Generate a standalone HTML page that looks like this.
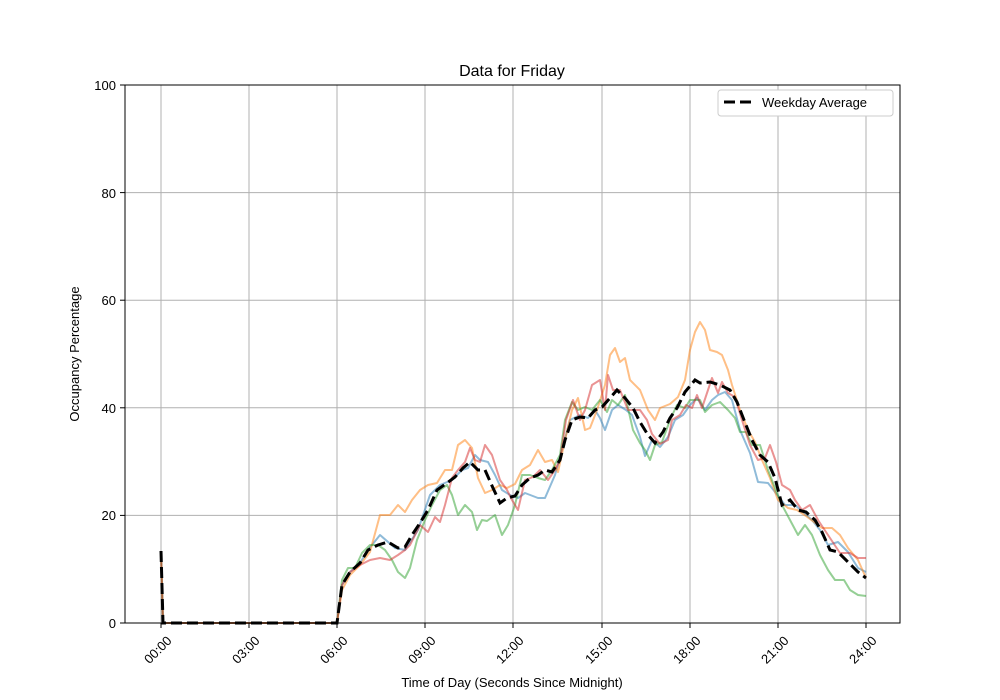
<!DOCTYPE html>
<html><head><meta charset="utf-8"><style>body{margin:0;background:#fff}svg{display:block;font-family:"Liberation Sans","DejaVu Sans",sans-serif}</style></head><body>
<svg width="1000" height="700" viewBox="0 0 1000 700">
<rect width="1000" height="700" fill="#fff"/>
<g stroke="#b0b0b0" stroke-width="1">
<line x1="161" y1="85" x2="161" y2="623"/><line x1="249" y1="85" x2="249" y2="623"/><line x1="337" y1="85" x2="337" y2="623"/><line x1="425" y1="85" x2="425" y2="623"/><line x1="513" y1="85" x2="513" y2="623"/><line x1="602" y1="85" x2="602" y2="623"/><line x1="690" y1="85" x2="690" y2="623"/><line x1="778" y1="85" x2="778" y2="623"/><line x1="866" y1="85" x2="866" y2="623"/>
<line x1="125" y1="515.4" x2="900" y2="515.4"/><line x1="125" y1="407.8" x2="900" y2="407.8"/><line x1="125" y1="300.2" x2="900" y2="300.2"/><line x1="125" y1="192.6" x2="900" y2="192.6"/>
</g>
<g fill="none" stroke-width="2" stroke-linejoin="round" stroke-opacity="0.5">
<polyline stroke="#1f77b4" points="161,551 163,623 337,623 342,585 350,572 360,563 368,550 380,535 395,548 405,550 418,530 430,495 440,485 452,480 462,470 468,468 475,455 480,460 488,462 495,475 502,490 510,495 518,498 525,493 538,498 545,498 555,475 562,450 570,420 580,415 588,418 595,410 600,418 605,430 612,410 618,405 626,410 632,415 640,437 645,456 652,440 660,447 668,437 675,420 683,415 690,405 697,398 705,410 712,400 718,395 725,392 732,400 740,430 750,453 758,482 768,483 775,492 785,505 795,505 803,512 812,520 820,530 828,545 838,542 848,552 858,568 866,572"/>
<polyline stroke="#ff7f0e" points="161,551 163,623 337,623 342,590 350,575 360,565 370,552 380,515 390,515 398,505 405,512 412,500 420,490 428,485 437,483 445,470 452,470 458,445 465,440 472,448 478,478 485,493 492,490 500,485 507,488 515,484 522,470 530,465 538,450 545,462 552,460 558,472 565,440 572,410 578,398 585,430 590,428 597,410 605,385 610,355 615,348 620,362 625,358 630,380 640,390 648,410 655,420 660,408 670,404 678,397 685,380 690,350 695,332 700,322 705,330 710,350 717,352 722,355 728,370 732,385 740,410 748,430 755,442 762,460 770,478 778,500 788,508 797,510 806,516 814,522 822,528 832,528 840,535 848,548 858,560 866,578"/>
<polyline stroke="#2ca02c" points="161,551 163,623 337,623 342,580 348,568 355,568 362,553 370,545 378,545 385,550 392,560 398,572 405,578 410,568 417,540 425,520 432,505 440,490 447,485 452,495 458,515 465,505 472,512 477,530 482,520 487,521 495,515 502,535 508,525 515,505 522,475 530,475 538,478 545,480 552,470 560,455 565,420 572,402 578,410 585,407 592,410 600,400 607,412 612,400 618,405 625,395 633,430 640,443 645,450 650,460 655,445 662,442 670,420 677,405 685,408 690,400 700,400 705,412 712,405 720,402 728,410 735,418 740,432 746,432 752,445 760,445 768,470 775,488 782,505 790,520 798,535 805,525 812,535 820,555 828,570 835,580 844,580 850,590 858,595 866,596"/>
<polyline stroke="#d62728" points="161,551 163,623 337,623 342,585 350,572 360,565 370,560 380,558 390,560 398,555 405,550 410,545 415,535 420,525 428,532 435,517 440,522 445,505 452,478 458,470 465,462 470,448 475,460 480,462 485,445 492,455 500,480 507,490 512,500 518,510 525,480 533,477 540,470 548,480 555,470 560,460 566,420 573,400 580,420 585,410 592,385 600,380 605,410 608,375 613,390 620,390 628,410 640,410 647,420 652,434 660,444 668,440 672,420 680,415 686,405 692,408 697,395 702,408 708,390 712,378 718,393 722,382 728,393 735,397 742,420 750,445 758,460 765,458 770,445 776,462 782,485 790,490 795,500 802,510 810,505 818,520 828,535 840,553 850,553 858,558 866,558"/>
</g>
<polyline fill="none" stroke="#000" stroke-width="3" stroke-dasharray="11,5" points="161,551 163,623 337,623 342,585 350,572 360,563 368,550 378,545 388,542 398,548 405,547 412,535 420,523 428,510 437,490 447,483 455,477 463,468 470,462 478,470 485,470 493,488 500,503 507,498 515,496 522,485 530,478 538,475 545,470 552,472 560,460 565,440 572,420 580,417 588,418 595,410 602,407 610,398 617,390 625,398 633,408 640,422 648,435 655,443 663,432 670,418 677,408 685,392 695,380 700,383 710,382 720,385 730,390 737,402 744,420 752,440 760,455 768,462 775,478 782,505 790,500 798,510 806,512 815,520 822,532 830,550 838,552 848,562 858,572 866,578"/>
<rect x="125" y="85" width="775" height="538" fill="none" stroke="#000" stroke-width="1"/>
<g stroke="#000"><line x1="161" y1="623" x2="161" y2="628"/><line x1="249" y1="623" x2="249" y2="628"/><line x1="337" y1="623" x2="337" y2="628"/><line x1="425" y1="623" x2="425" y2="628"/><line x1="513" y1="623" x2="513" y2="628"/><line x1="602" y1="623" x2="602" y2="628"/><line x1="690" y1="623" x2="690" y2="628"/><line x1="778" y1="623" x2="778" y2="628"/><line x1="866" y1="623" x2="866" y2="628"/>
<line x1="120" y1="623" x2="125" y2="623"/><line x1="120" y1="515.4" x2="125" y2="515.4"/><line x1="120" y1="407.8" x2="125" y2="407.8"/><line x1="120" y1="300.2" x2="125" y2="300.2"/><line x1="120" y1="192.6" x2="125" y2="192.6"/><line x1="120" y1="85" x2="125" y2="85"/></g>
<g font-size="13" fill="#000" text-anchor="end">
<text x="116" y="628">0</text><text x="116" y="520">20</text><text x="116" y="413">40</text><text x="116" y="305">60</text><text x="116" y="198">80</text><text x="116" y="90">100</text></g>
<g font-size="13" fill="#000" text-anchor="middle">
<text transform="translate(161,653) rotate(-45)">00:00</text><text transform="translate(249,653) rotate(-45)">03:00</text><text transform="translate(337,653) rotate(-45)">06:00</text><text transform="translate(425,653) rotate(-45)">09:00</text><text transform="translate(513,653) rotate(-45)">12:00</text><text transform="translate(602,653) rotate(-45)">15:00</text><text transform="translate(690,653) rotate(-45)">18:00</text><text transform="translate(778,653) rotate(-45)">21:00</text><text transform="translate(866,653) rotate(-45)">24:00</text>
<text x="512" y="76" font-size="16">Data for Friday</text>
<text x="512" y="687">Time of Day (Seconds Since Midnight)</text>
<text transform="translate(79,354) rotate(-90)">Occupancy Percentage</text>
</g>
<rect x="718" y="90" width="175" height="26" rx="3" fill="#fff" stroke="#ccc"/>
<line x1="724" y1="102" x2="754" y2="102" stroke="#000" stroke-width="3" stroke-dasharray="11,5"/>
<text x="762" y="107" font-size="13">Weekday Average</text>
</svg>
</body></html>
